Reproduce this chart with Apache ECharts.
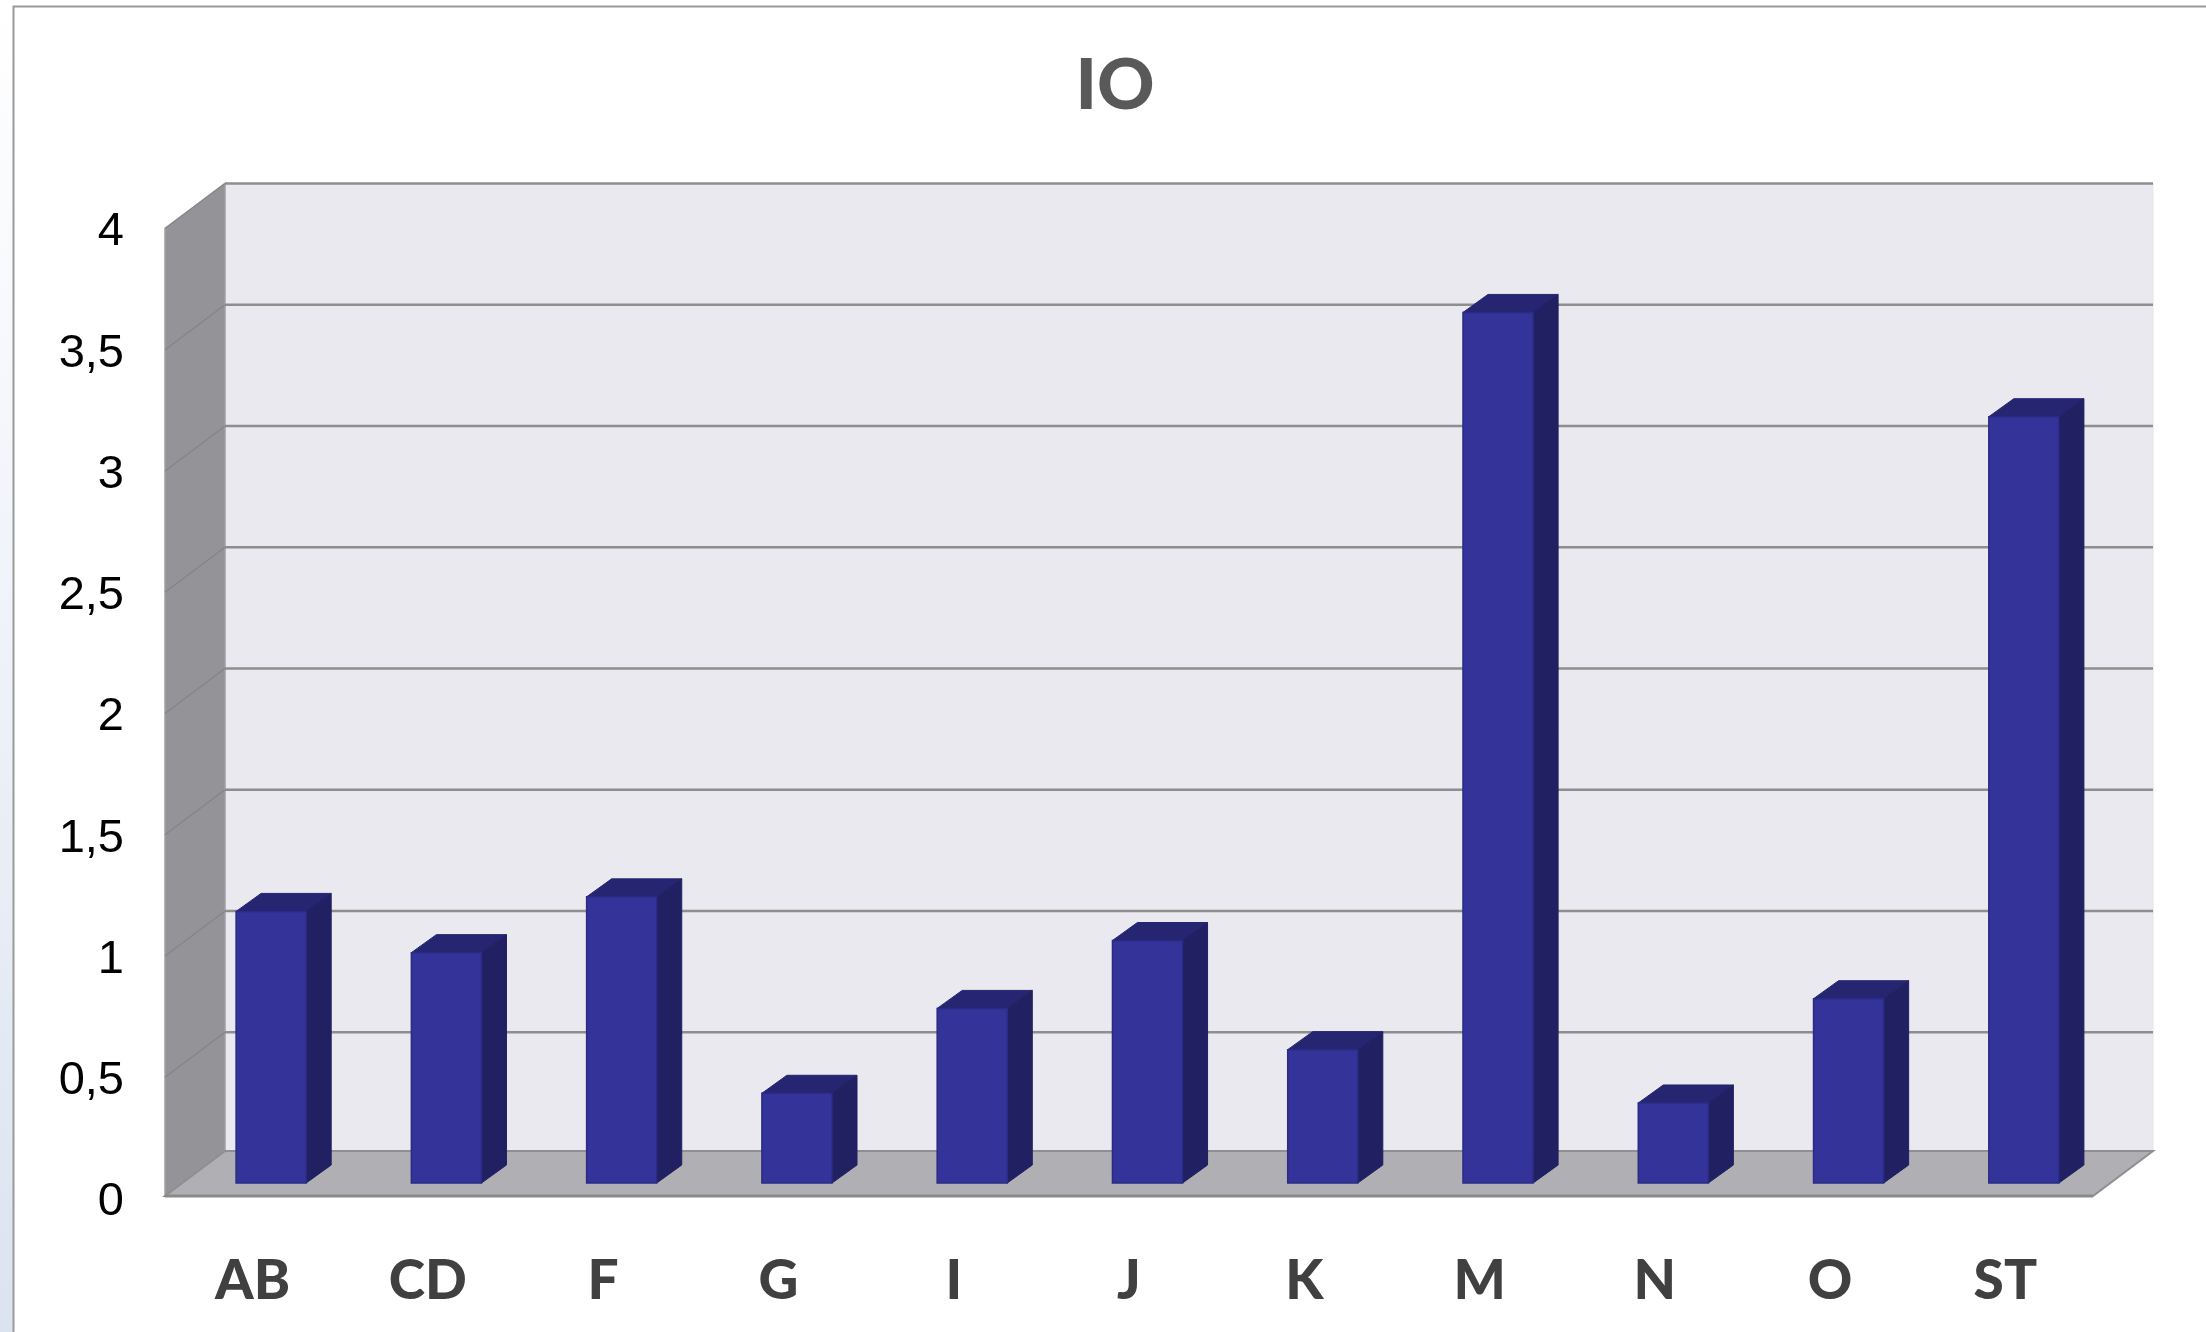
<!DOCTYPE html>
<html>
<head>
<meta charset="utf-8">
<style>html,body{margin:0;padding:0;background:#fff}#c{width:2206px;height:1332px}</style>
<script src="https://cdn.jsdelivr.net/npm/echarts@6/dist/echarts.min.js"></script>
</head>
<body>
<div id="c"></div>
<script>
const categories = ['AB','CD','F','G','I','J','K','M','N','O','ST'];
const values = [1.12,0.95,1.18,0.37,0.72,1.0,0.55,3.59,0.33,0.76,3.16];
const yTicks = [0,0.5,1,1.5,2,2.5,3,3.5,4];

const WALL = {dx:60, dy:-45, floorInset:2.5};
const BAR = {dx:18.5, dy:-15.5, depthX:25, depthY:-18, ratio:0.4};

const chart = echarts.init(document.getElementById('c'), null, {renderer:'canvas'});

function poly(points, fill, stroke, lw, z2){
  return {type:'polygon', z2:z2||0, shape:{points}, style:{fill, stroke:stroke||null, lineWidth:lw||0}};
}
function renderWalls(params, api){
  const c = params.coordSys, l=c.x, r=c.x+c.width, t=c.y, b=c.y+c.height-WALL.floorInset, dx=WALL.dx, dy=WALL.dy;
  return {type:'group', children:[
    poly([[l+dx,t+dy],[r+dx,t+dy],[r+dx,b+dy],[l+dx,b+dy]],'#e9e9ef','#e3e3e8',1,0),
    poly([[l,t],[l+dx,t+dy],[l+dx,b+dy],[l,b]],'#939398','#a0a0a4',1.5,1),
    poly([[l,b],[r,b],[r+dx,b+dy],[l+dx,b+dy]],'#b0afb3','#8f8f93',2,2),
    {type:'line', z2:4, shape:{x1:l,y1:b,x2:r,y2:b}, style:{stroke:'#8a8a8a',lineWidth:3}}
  ]};
}
function renderTick(params, api){
  const v = api.value(0);
  if(v===0) return {type:'group', children:[]};
  const c = params.coordSys, y = api.coord([0, v])[1], l=c.x, r=c.x+c.width, dx=WALL.dx, dy=WALL.dy;
  return {type:'group', children:[
    {type:'line', z2:3, shape:{x1:l,y1:y,x2:l+dx,y2:y+dy}, style:{stroke:'#86868a',lineWidth:1.5}},
    {type:'line', z2:3, shape:{x1:l+dx,y1:y+dy,x2:r+dx,y2:y+dy}, style:{stroke:'#8e8e8e',lineWidth:2.5}}
  ]};
}
function renderBar(params, api){
  const i = api.value(0), v = api.value(1);
  const top = api.coord([i, v]), base = api.coord([i, 0]);
  const w = api.size([1,0])[0]*BAR.ratio;
  const x0 = top[0]-w/2+BAR.dx, x1 = x0+w, yT = top[1]+BAR.dy, yB = base[1]+BAR.dy, dx=BAR.depthX, dy=BAR.depthY;
  return {type:'group', children:[
    poly([[x0,yT],[x1,yT],[x1+dx,yT+dy],[x0+dx,yT+dy]],'#252572','#252572',1),
    poly([[x1,yT],[x1+dx,yT+dy],[x1+dx,yB+dy],[x1,yB]],'#202062','#202062',1),
    poly([[x0,yT],[x1,yT],[x1,yB],[x0,yB]],'#333399','#2b2b85',1.5)
  ]};
}

chart.setOption({
  animation:false,
  backgroundColor:'#ffffff',
  title:{text:'IO', left:1110, top:46, textAlign:'center',
    textStyle:{fontFamily:'Lato', fontWeight:900, fontSize:71, color:'#595959'}},
  grid:{left:165, right:113, top:228.5, bottom:133.5, containLabel:false},
  xAxis:{type:'category', data:categories, axisLine:{show:false}, axisTick:{show:false}, splitLine:{show:false},
    axisLabel:{margin:55.5, interval:0, fontFamily:'Lato', fontWeight:900, fontSize:55, color:'#404040'}},
  yAxis:{type:'value', min:0, max:4, interval:0.5, axisLine:{show:false}, axisTick:{show:false}, splitLine:{show:false},
    axisLabel:{margin:41, verticalAlign:'top', lineHeight:8, fontFamily:'"Liberation Sans"', fontSize:47, color:'#000000',
      formatter:v=>String(v).replace('.',',')}},
  graphic:[
    {type:'rect', silent:true, z:-10, shape:{x:0,y:0,width:13,height:1332},
      style:{fill:new echarts.graphic.LinearGradient(0,0,0,1,[{offset:0,color:'#ffffff'},{offset:0.45,color:'#f0f3f9'},{offset:1,color:'#dbe3f1'}])}},
    {type:'polyline', silent:true, z:-9, shape:{points:[[13.5,1332],[13.5,6.5],[2206,6.5]]},
      style:{fill:null,stroke:'#9a9a9a',lineWidth:2}}
  ],
  series:[
    {name:'walls', type:'custom', coordinateSystem:'cartesian2d', z:1, silent:true, clip:false, renderItem:renderWalls, data:[[0,0]], encode:{x:0,y:1}},
    {name:'ticks', type:'custom', coordinateSystem:'cartesian2d', z:2, silent:true, clip:false, renderItem:renderTick,
      data:yTicks.map(v=>[v]), encode:{y:0}},
    {name:'IO', type:'custom', coordinateSystem:'cartesian2d', z:3, silent:true, clip:false, renderItem:renderBar,
      data:values.map((v,i)=>[i,v]), encode:{x:0,y:1}}
  ]
});
</script>
</body>
</html>
